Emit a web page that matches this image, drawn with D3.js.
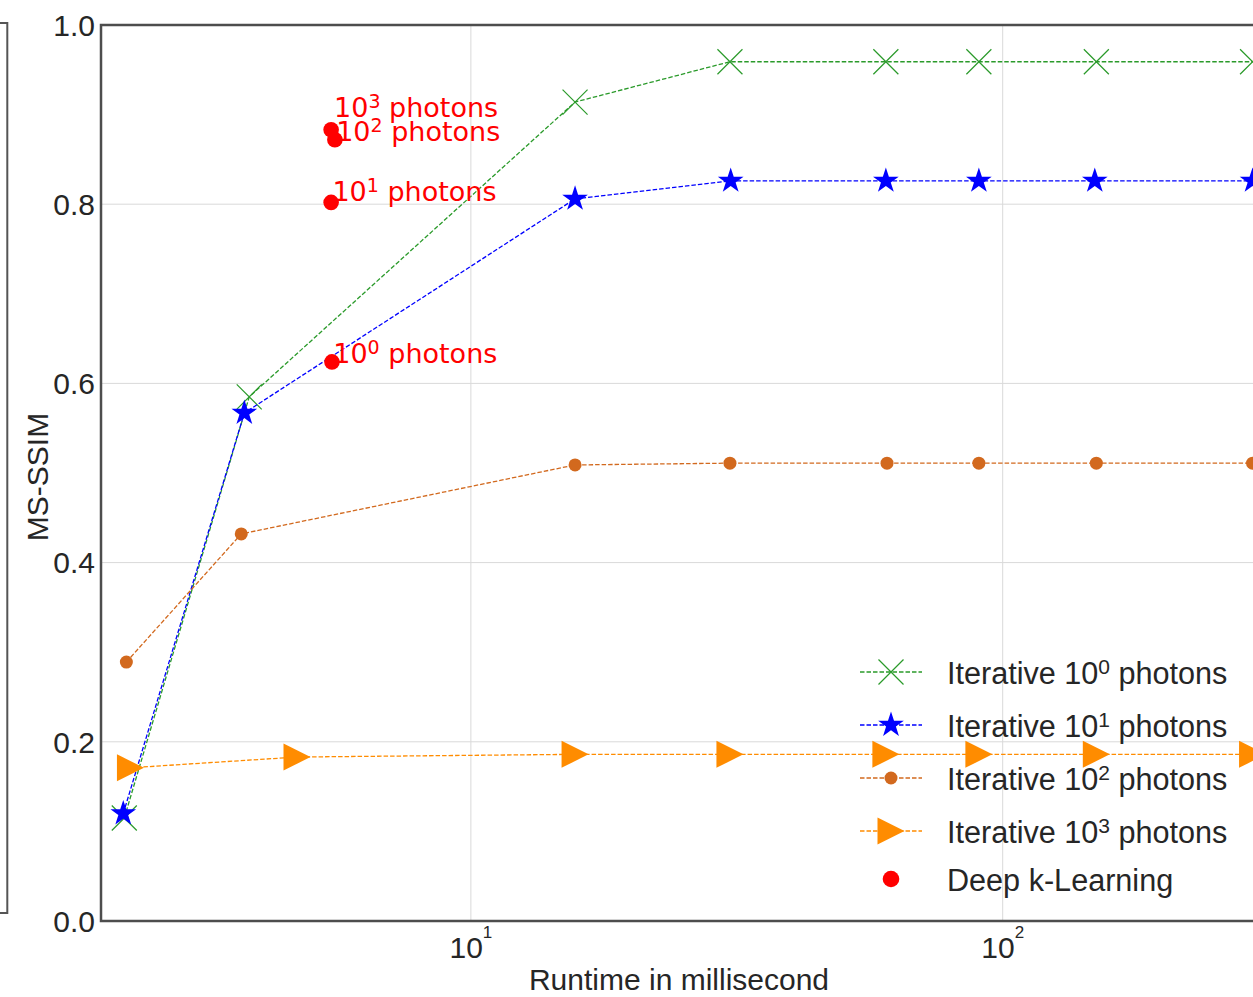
<!DOCTYPE html>
<html>
<head>
<meta charset="utf-8">
<script src="https://cdn.jsdelivr.net/npm/d3@7"></script>
<style>
  body { margin: 0; background: #fff; }
  svg { display: block; }
  .tick-label { font-family: "Liberation Sans", Arial, sans-serif; fill: #262626; }
  .annot { font-family: "DejaVu Sans", sans-serif; fill: red; }
</style>
</head>
<body>
<div id="chart"></div>
<script>

// Runtime (ms) and MS-SSIM
var runtime100 = [2.23, 3.83, 15.7, 30.7, 60.3, 90.2, 150, 295];
var ssim100    = [0.115, 0.585, 0.914, 0.959, 0.959, 0.959, 0.959, 0.959];

var runtime101 = [2.22, 3.75, 15.7, 30.8, 60.3, 90.2, 149, 295];
var ssim101    = [0.120, 0.567, 0.806, 0.826, 0.826, 0.826, 0.826, 0.826];

var runtime102 = [2.25, 3.70, 15.7, 30.7, 60.6, 90.2, 150, 295];
var ssim102    = [0.289, 0.432, 0.509, 0.511, 0.511, 0.511, 0.511, 0.511];

var runtime103 = [2.29, 4.71, 15.7, 30.7, 60.3, 90.2, 150, 295];
var ssim103    = [0.171, 0.183, 0.186, 0.186, 0.186, 0.186, 0.186, 0.186];

// Deep k-Learning points and their labels
var deepRuntime = [5.46, 5.55, 5.46, 5.48];
var deepSsim    = [0.883, 0.872, 0.802, 0.624];
var deepExp     = ["3", "2", "1", "0"];
var labelRuntime = [5.53, 5.58, 5.49, 5.51];
var labelSsim    = [0.897, 0.8705, 0.8036, 0.623];

var legendLabels = ["Iterative 10|0| photons", "Iterative 10|1| photons",
                    "Iterative 10|2| photons", "Iterative 10|3| photons",
                    "Deep k-Learning"];

var yTicks = [0.0, 0.2, 0.4, 0.6, 0.8, 1.0];
var xTicks = [10, 100];
var xDomain = [2.016, 310];

var width = 1253, height = 997;
var margin = {top: 25, right: -11, bottom: 76, left: 101};

var svg = d3.select('#chart')
  .append('svg')
  .attr('width', width)
  .attr('height', height);

var x = d3.scaleLog()
  .domain(xDomain)
  .range([margin.left, width - margin.right]);

var y = d3.scaleLinear()
  .domain([0, 1])
  .range([height - margin.bottom, margin.top]);

// box of the neighbouring panel, cut off at the left
svg.append('rect')
  .attr('x', -10).attr('y', 23)
  .attr('width', 17.3).attr('height', 890)
  .attr('fill', 'none')
  .attr('stroke', '#555').attr('stroke-width', 2);

// grid
svg.append('g').selectAll('line.h')
  .data(yTicks.slice(1, -1))
  .enter().append('line')
  .attr('x1', margin.left).attr('x2', width)
  .attr('y1', function(d) { return y(d); })
  .attr('y2', function(d) { return y(d); })
  .attr('stroke', '#d9d9d9').attr('stroke-width', 1);

svg.append('g').selectAll('line.v')
  .data(xTicks)
  .enter().append('line')
  .attr('x1', function(d) { return x(d); })
  .attr('x2', function(d) { return x(d); })
  .attr('y1', y(0)).attr('y2', y(1))
  .attr('stroke', '#d9d9d9').attr('stroke-width', 1);

// tick labels
svg.append('g').selectAll('text')
  .data(yTicks)
  .enter().append('text')
  .attr('class', 'tick-label')
  .attr('x', margin.left - 6)
  .attr('y', function(d) { return y(d); })
  .attr('dy', '0.36em')
  .attr('text-anchor', 'end')
  .style('font-size', '30px')
  .text(function(d) { return d.toFixed(1); });

var xt = svg.append('g').selectAll('text')
  .data(xTicks)
  .enter().append('text')
  .attr('class', 'tick-label')
  .attr('x', function(d) { return x(d); })
  .attr('y', y(0) + 37)
  .attr('text-anchor', 'middle')
  .style('font-size', '30px');
xt.append('tspan').text('10');
xt.append('tspan')
  .attr('dy', -20)
  .style('font-size', '17px')
  .text(function(d) { return Math.round(Math.log10(d)); });

// axis titles
svg.append('text')
  .attr('class', 'tick-label')
  .attr('x', 679)
  .attr('y', 990)
  .attr('text-anchor', 'middle')
  .style('font-size', '30px')
  .text('Runtime in millisecond');

svg.append('text')
  .attr('class', 'tick-label')
  .attr('transform', 'translate(48,477) rotate(-90)')
  .attr('text-anchor', 'middle')
  .style('font-size', '30px')
  .text('MS-SSIM');

// marker shapes
function xMark(r) {
  return 'M' + (-r) + ',' + (-r) + 'L' + r + ',' + r +
         'M' + (-r) + ',' + r + 'L' + r + ',' + (-r);
}
function star(r) {
  var pts = [];
  for (var k = 0; k < 10; k++) {
    var rr = k % 2 ? r * 0.382 : r;
    var a = -Math.PI / 2 + k * Math.PI / 5;
    pts.push([rr * Math.cos(a), rr * Math.sin(a)]);
  }
  return 'M' + pts.join('L') + 'Z';
}
function triRight(r) {
  return 'M' + r + ',0L' + (-r) + ',' + (-r) + 'L' + (-r) + ',' + r + 'Z';
}

var series = [
  {xs: runtime100, ys: ssim100, color: '#2a9a2a', marker: 'x'},
  {xs: runtime101, ys: ssim101, color: '#0000ff', marker: 'star'},
  {xs: runtime102, ys: ssim102, color: '#d2691e', marker: 'circle'},
  {xs: runtime103, ys: ssim103, color: '#ff8c00', marker: 'tri'}
];

function drawMarker(g, kind, color) {
  if (kind === 'x') {
    g.append('path').attr('d', xMark(12.5))
      .attr('stroke', color).attr('stroke-width', 1.2).attr('fill', 'none');
  } else if (kind === 'star') {
    g.append('path').attr('d', star(13.5)).attr('fill', color);
  } else if (kind === 'circle') {
    g.append('circle').attr('r', 6.5).attr('fill', color);
  } else if (kind === 'tri') {
    g.append('path').attr('d', triRight(13.5)).attr('fill', color);
  } else {
    g.append('circle').attr('r', 8.3).attr('fill', color);
  }
}

var line = d3.line()
  .x(function(d) { return x(d[0]); })
  .y(function(d) { return y(d[1]); });

series.forEach(function(s) {
  var pts = d3.zip(s.xs, s.ys);
  svg.append('path')
    .attr('d', line(pts))
    .attr('fill', 'none')
    .attr('stroke', s.color)
    .attr('stroke-width', 1.3)
    .attr('stroke-dasharray', '4.5,2');
  pts.forEach(function(p) {
    var g = svg.append('g')
      .attr('transform', 'translate(' + x(p[0]) + ',' + y(p[1]) + ')');
    drawMarker(g, s.marker, s.color);
  });
});

// Deep k-Learning
svg.append('g').selectAll('circle')
  .data(d3.zip(deepRuntime, deepSsim))
  .enter().append('circle')
  .attr('cx', function(d) { return x(d[0]); })
  .attr('cy', function(d) { return y(d[1]); })
  .attr('r', 7.8)
  .attr('fill', 'red');

var ann = svg.append('g').selectAll('text')
  .data(d3.range(deepExp.length))
  .enter().append('text')
  .attr('class', 'annot')
  .attr('x', function(i) { return x(labelRuntime[i]); })
  .attr('y', function(i) { return y(labelSsim[i]); })
  .style('font-size', '27px');
ann.append('tspan').text('10');
ann.append('tspan').attr('dy', -9).style('font-size', '19px')
  .text(function(i) { return deepExp[i]; });
ann.append('tspan').attr('dy', 9).text(' photons');

// axes frame
svg.append('path')
  .attr('d', 'M' + width + ',' + y(1) + 'H' + margin.left + 'V' + y(0) + 'H' + width)
  .attr('fill', 'none')
  .attr('stroke', '#4d4d4d')
  .attr('stroke-width', 2.5);

// legend
var legendY = [672, 725, 778, 831, 879];
var legendKinds = ['x', 'star', 'circle', 'tri', 'dot'];
var legendColors = ['#2a9a2a', '#0000ff', '#d2691e', '#ff8c00', 'red'];

legendLabels.forEach(function(lab, i) {
  var g = svg.append('g').attr('transform', 'translate(0,' + legendY[i] + ')');
  if (i < 4) {
    g.append('line')
      .attr('x1', 860).attr('x2', 922)
      .attr('stroke', legendColors[i])
      .attr('stroke-width', 1.3)
      .attr('stroke-dasharray', '4.5,2');
  }
  var mg = g.append('g').attr('transform', 'translate(891,0)');
  drawMarker(mg, legendKinds[i], legendColors[i]);

  var parts = lab.split('|');
  var t = g.append('text')
    .attr('class', 'tick-label')
    .attr('x', 947)
    .attr('y', 12)
    .style('font-size', '30.6px');
  t.append('tspan').text(parts[0]);
  if (parts.length > 1) {
    t.append('tspan').attr('dy', -10).style('font-size', '21px').text(parts[1]);
    t.append('tspan').attr('dy', 10).text(parts[2]);
  }
});

</script>
</body>
</html>
